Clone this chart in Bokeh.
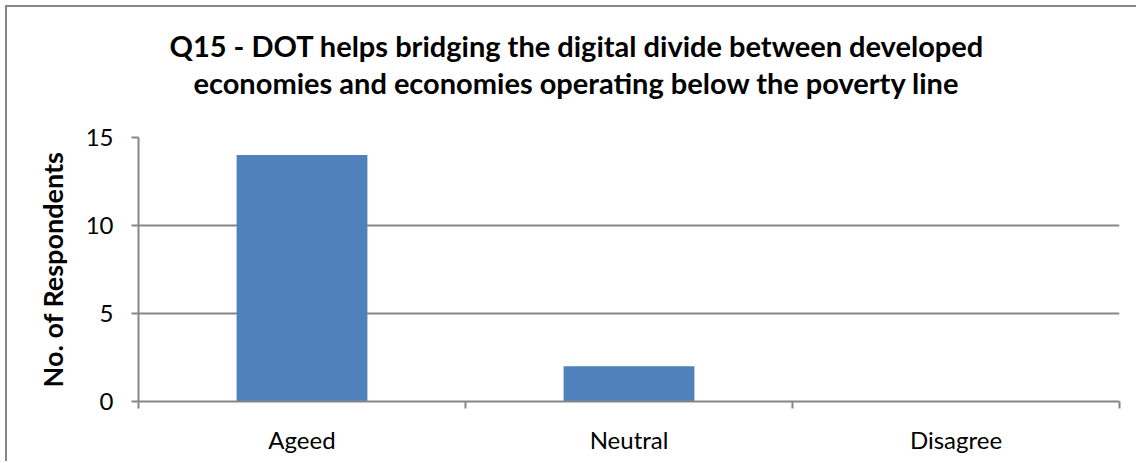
from bokeh.plotting import figure
from bokeh.models import Range1d, FixedTicker, Title
from bokeh.embed import file_html
from bokeh.resources import INLINE

categories = ["Ageed", "Neutral", "Disagree"]
values = [14, 2, 0]
y_ticks = [0, 5, 10, 15]
title_lines = ["Q15 - DOT helps bridging the digital divide between developed",
               "economies and economies operating below the poverty line"]
title_offsets = [31, 55]
y_label = "No. of Respondents"

FONT = "Lato"
GRAY = "#868686"
W, H = 1131, 456

p = figure(width=W, height=H, output_backend="svg", toolbar_location=None,
           x_range=Range1d(0, len(categories)), y_range=Range1d(0, 15),
           min_border_left=131, min_border_right=19, min_border_top=130, min_border_bottom=62,
           title=None)
p.margin = (5, 0, 0, 5)
p.styles = {"border-left": "2px solid #868686", "border-top": "2px solid #868686"}
p.outline_line_color = None
p.background_fill_color = "white"
p.border_fill_color = "white"

xs = [i + 0.5 for i in range(len(categories))]
p.vbar(x=xs, top=values, width=0.4, bottom=0, color="#4F81BD", line_color=None)

# x axis
xa = p.xaxis[0]
xa.ticker = FixedTicker(ticks=xs, minor_ticks=list(range(len(categories) + 1)))
xa.major_label_overrides = {x: c for x, c in zip(xs, categories)}
xa.major_tick_line_color = None
xa.minor_tick_line_color = GRAY
xa.minor_tick_line_width = 2
xa.minor_tick_out = 7
xa.minor_tick_in = 0
xa.axis_line_color = GRAY
xa.axis_line_width = 2
xa.major_label_text_font = FONT
xa.major_label_text_font_size = "24px"
xa.major_label_text_color = "black"
xa.major_label_standoff = 16

ya = p.yaxis[0]
ya.ticker = FixedTicker(ticks=y_ticks, minor_ticks=[])
ya.axis_line_color = GRAY
ya.axis_line_width = 2
ya.major_tick_line_color = GRAY
ya.major_tick_line_width = 2
ya.major_tick_out = 7
ya.major_tick_in = 0
ya.minor_tick_line_color = None
ya.major_label_text_font = FONT
ya.major_label_text_font_size = "24px"
ya.major_label_text_color = "black"
ya.major_label_standoff = 18
ya.axis_label = y_label
ya.axis_label_text_font = FONT
ya.axis_label_text_font_size = "27px"
ya.axis_label_text_font_style = "bold"
ya.axis_label_text_color = "black"
ya.axis_label_standoff = 14

p.xgrid.grid_line_color = None
p.ygrid.ticker = FixedTicker(ticks=y_ticks)
p.ygrid.grid_line_color = GRAY
p.ygrid.grid_line_width = 2

# spacer between title and plot area (closest to the frame)
p.add_layout(Title(text=" ", text_font_size="10px", standoff=25), "above")
# title lines: added bottom line first, so the first line ends up on top
for line, off in reversed(list(zip(title_lines, title_offsets))):
    p.add_layout(Title(text=line, align="left", offset=off, standoff=0,
                       text_font=FONT, text_font_size="29px", text_font_style="bold",
                       text_color="black"), "above")

open("out.html", "w").write(file_html(p, INLINE))
